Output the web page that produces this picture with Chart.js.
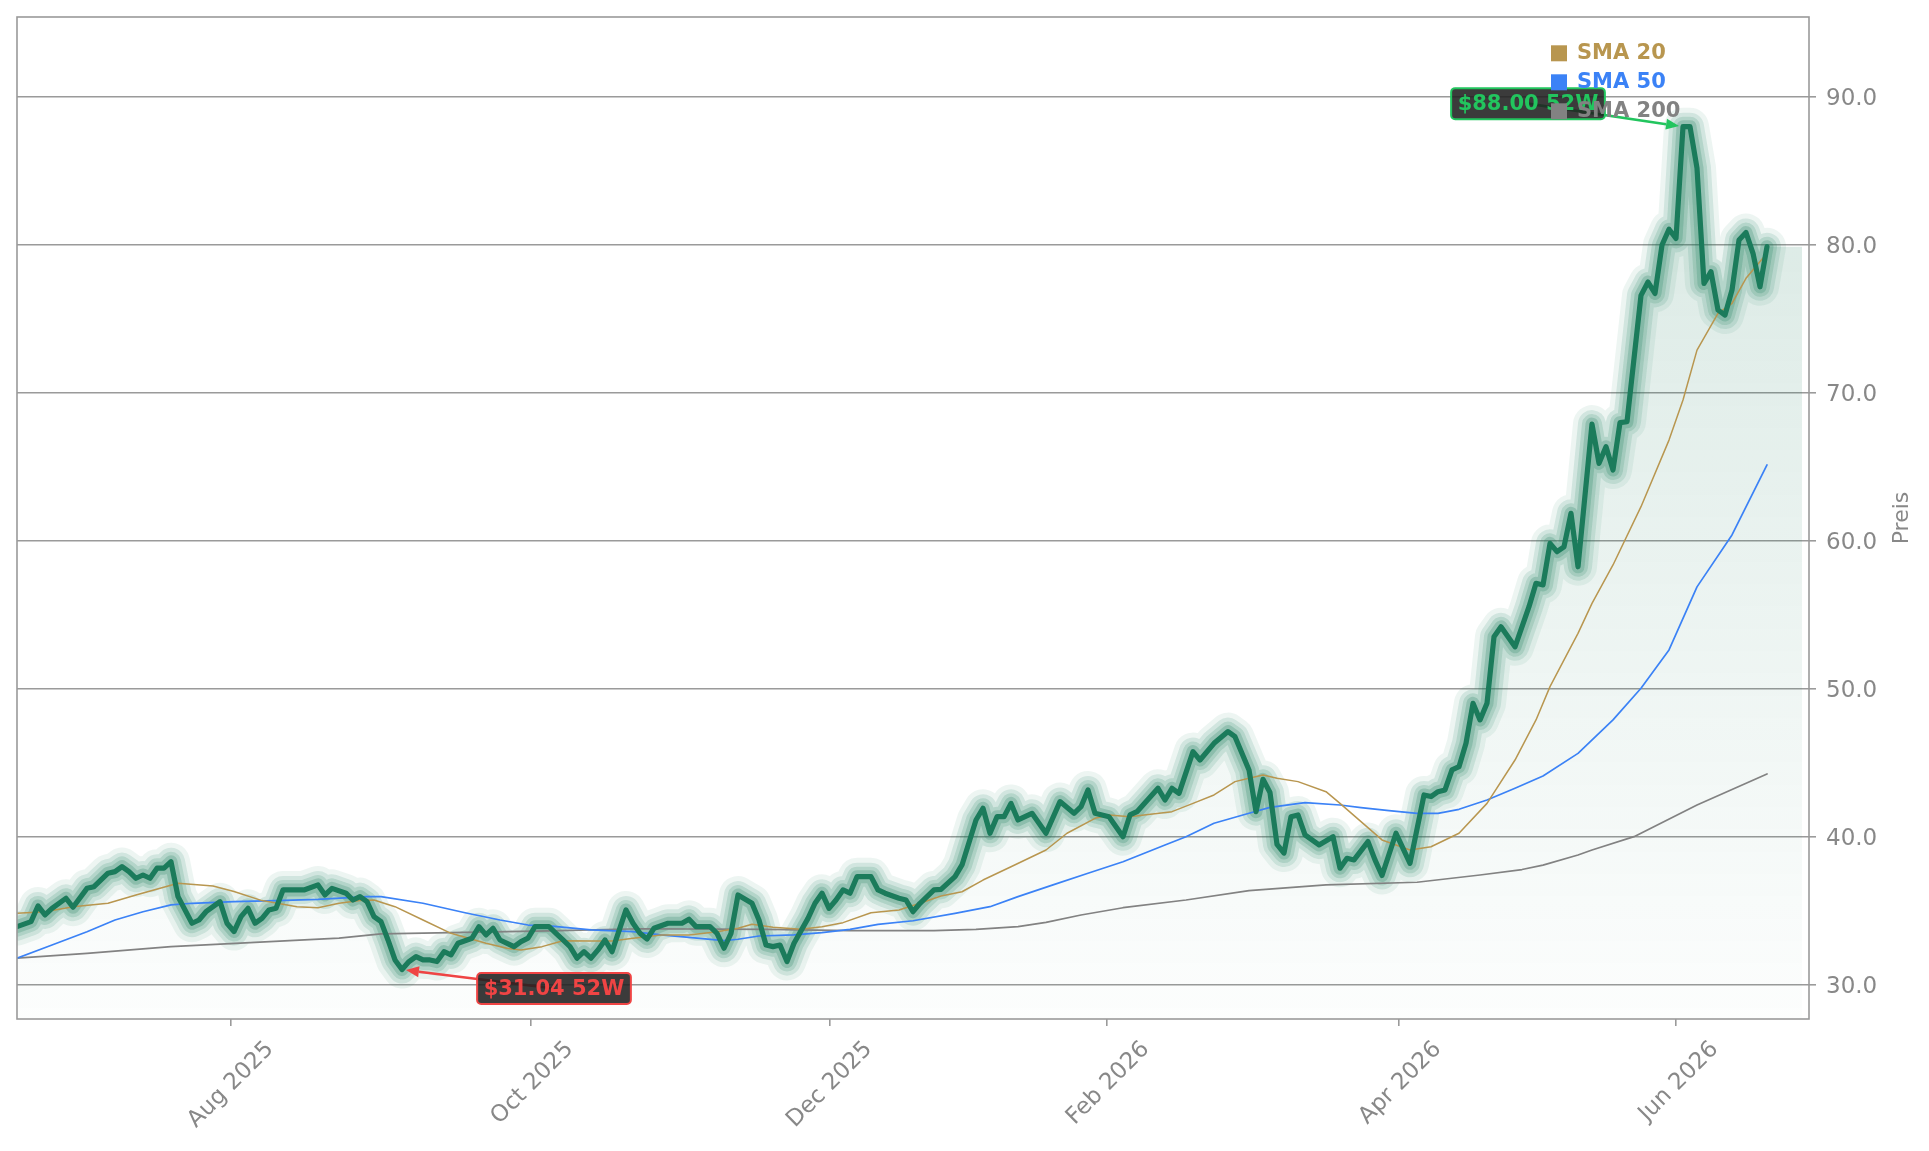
<!DOCTYPE html>
<html>
<head>
<meta charset="utf-8">
<title>Kurs mit SMA 20 / 50 / 200</title>
<script src="https://cdn.jsdelivr.net/npm/chart.js@4.4.1/dist/chart.umd.min.js"></script>
<style>
  html, body { margin: 0; padding: 0; background: #fff; overflow: hidden; }
  #wrap { width: 1929px; height: 1151px; position: relative; }
</style>
</head>
<body>
<div id="wrap"><canvas id="chart"></canvas></div>
<script>
// x = trading session index (0 = first session of the 52 week window)
const priceIdx = [0, 2, 3, 4, 5, 7, 8, 10, 11, 13,
  14, 15, 16, 17, 18, 19, 20, 21, 22, 23,
  25, 26, 27, 29, 30, 31, 32, 33, 34, 35,
  36, 37, 38, 41, 43, 44, 45, 47, 48, 49,
  50, 51, 52, 53, 54, 55, 56, 57, 58, 59,
  60, 61, 62, 63, 65, 66, 67, 68, 69, 71,
  72, 73, 74, 76, 77, 78, 79, 80, 81, 82,
  83, 84, 85, 87, 88, 89, 90, 91, 92, 93,
  95, 96, 97, 99, 100, 101, 102, 103, 105, 106,
  107, 108, 109, 110, 111, 113, 114, 115, 116, 117,
  118, 119, 120, 122, 123, 124, 126, 127, 128, 129,
  131, 132, 134, 135, 137, 138, 139, 140, 141, 142,
  143, 145, 147, 149, 151, 152, 153, 154, 156, 158,
  159, 160, 163, 164, 165, 166, 168, 169, 171, 173,
  174, 176, 177, 178, 179, 180, 181, 182, 183, 184,
  186, 188, 189, 190, 191, 193, 194, 195, 197, 199,
  201, 202, 203, 204, 205, 206, 207, 208, 209, 210,
  211, 212, 214, 216, 217, 218, 219, 220, 221, 222,
  223, 225, 226, 227, 228, 229, 230, 232, 233, 234,
  235, 236, 237, 238, 239, 240, 241, 242, 243, 244,
  245, 246, 247, 248, 249, 250];
const priceVal = [33.94, 34.28, 35.34, 34.73, 35.18, 35.86, 35.25, 36.53, 36.64, 37.55,
  37.66, 38.0, 37.66, 37.21, 37.43, 37.21, 37.89, 37.89, 38.33, 35.97,
  34.17, 34.39, 34.95, 35.63, 34.17, 33.61, 34.62, 35.18, 34.17, 34.5,
  35.07, 35.18, 36.42, 36.42, 36.76, 36.08, 36.53, 36.2, 35.74, 35.97,
  35.63, 34.62, 34.28, 33.04, 31.69, 31.04, 31.58, 31.92, 31.69, 31.69,
  31.58, 32.25, 32.03, 32.82, 33.16, 33.94, 33.38, 33.83, 33.04, 32.59,
  32.93, 33.16, 33.94, 33.94, 33.49, 33.04, 32.59, 31.81, 32.25, 31.81,
  32.37, 33.04, 32.25, 35.07, 34.17, 33.49, 33.1, 33.83, 34.0, 34.17,
  34.17, 34.44, 33.94, 33.94, 33.49, 32.48, 33.49, 36.08, 35.52, 34.39,
  32.7, 32.59, 32.7, 31.58, 32.82, 34.5, 35.52, 36.2, 35.18, 35.74,
  36.42, 36.2, 37.32, 37.32, 36.42, 36.2, 35.86, 35.74, 34.95, 35.52,
  36.42, 36.46, 37.32, 38.11, 41.15, 41.94, 40.25, 41.37, 41.37, 42.27,
  41.15, 41.6, 40.25, 42.39, 41.6, 42.05, 43.18, 41.6, 41.37, 40.02,
  41.49, 41.71, 43.29, 42.5, 43.29, 42.95, 45.77, 45.2, 46.33, 47.12,
  46.78, 44.53, 41.71, 43.9, 43.0, 39.5, 38.91, 41.37, 41.49, 40.14,
  39.46, 40.02, 37.89, 38.56, 38.45, 39.69, 38.45, 37.4, 40.25, 38.22,
  42.84, 42.73, 43.06, 43.18, 44.53, 44.75, 46.33, 49.03, 47.91, 49.03,
  53.53, 54.2, 52.85, 55.56, 57.14, 57.03, 59.84, 59.28, 59.61, 61.87,
  58.26, 67.9, 65.25, 66.37, 64.8, 68.0, 68.06, 76.6, 77.5, 76.73,
  80.0, 81.07, 80.45, 88.0, 88.0, 85.2, 77.4, 78.2, 75.61, 75.27,
  76.96, 80.34, 80.85, 79.44, 77.18, 79.89];

const sma20Idx = [0, 4, 8, 13, 17, 23, 28, 31, 35, 40,
  43, 46, 49, 51, 54, 58, 62, 67, 70, 72,
  75, 78, 82, 85, 88, 92, 96, 100, 103, 105,
  108, 112, 115, 118, 122, 126, 129, 132, 135, 138,
  142, 147, 150, 154, 156, 159, 161, 165, 168, 171,
  174, 176, 178, 180, 183, 187, 189, 192, 195, 199,
  202, 206, 210, 214, 217, 219, 222, 223, 225, 228,
  232, 236, 237, 238, 240, 243, 245, 247, 250];
const sma20Val = [34.84, 34.95, 35.29, 35.52, 36.08, 36.87, 36.69, 36.31, 35.7, 35.29,
  35.22, 35.52, 35.7, 35.74, 35.29, 34.39, 33.49, 32.82, 32.48, 32.36,
  32.59, 32.99, 32.97, 32.97, 33.16, 33.38, 33.38, 33.6, 33.83, 34.1,
  33.9, 33.76, 33.94, 34.21, 34.88, 35.07, 35.52, 36.01, 36.3, 37.09,
  37.99, 39.12, 40.25, 41.26, 41.49, 41.37, 41.49, 41.71, 42.27, 42.84,
  43.74, 43.97, 44.19, 43.97, 43.74, 43.06, 42.27, 41.04, 39.8, 39.12,
  39.34, 40.25, 42.27, 45.2, 47.91, 50.16, 52.86, 53.76, 55.79, 58.38,
  62.32, 66.82, 68.18, 69.53, 72.9, 75.38, 76.06, 77.75, 79.44];

const sma50Idx = [0, 5, 10, 14, 18, 22, 25, 31, 37, 43,
  50, 52, 58, 64, 69, 73, 76, 82, 88, 92,
  96, 101, 103, 106, 111, 115, 119, 123, 128, 134,
  139, 143, 148, 153, 158, 164, 167, 171, 176, 179,
  184, 189, 192, 196, 200, 203, 206, 210, 214, 218,
  223, 228, 232, 236, 240, 245, 250];
const sma50Val = [31.81, 32.7, 33.6, 34.39, 34.95, 35.41, 35.52, 35.63, 35.7, 35.79,
  35.97, 35.97, 35.52, 34.88, 34.39, 34.05, 33.99, 33.72, 33.6, 33.38,
  33.22, 33.0, 33.09, 33.31, 33.38, 33.54, 33.76, 34.1, 34.34, 34.84,
  35.29, 35.97, 36.76, 37.55, 38.33, 39.46, 40.02, 40.93, 41.6, 42.0,
  42.32, 42.16, 41.98, 41.78, 41.6, 41.6, 41.87, 42.5, 43.29, 44.12,
  45.65, 47.91, 50.05, 52.64, 56.9, 60.41, 65.14];

const sma200Idx = [0, 10, 22, 34, 46, 52, 64, 76, 89, 107,
  119, 131, 137, 143, 147, 152, 158, 167, 176, 187,
  200, 209, 215, 218, 223, 225, 231, 240, 250];
const sma200Val = [31.81, 32.14, 32.59, 32.88, 33.16, 33.45, 33.56, 33.65, 33.8, 33.76,
  33.67, 33.67, 33.76, 33.94, 34.23, 34.73, 35.22, 35.74, 36.37, 36.76,
  36.94, 37.43, 37.8, 38.1, 38.78, 39.12, 40.02, 42.16, 44.26];

// the shaded area runs a few sessions past the last close
const fillEndIdx = 255;

// axis
const xTickPos = [30.6, 73.4, 116.1, 155.7, 197.4, 237.0];
const xTickLabels = ['Aug 2025', 'Oct 2025', 'Dec 2025', 'Feb 2026', 'Apr 2026', 'Jun 2026'];
const yTicks = [30, 40, 50, 60, 70, 80, 90];
const xMin = 0, xMax = 256;
const yMin = 27.7, yMax = 95.41;

const legendNames = ['SMA 20', 'SMA 50', 'SMA 200'];
const smaColors = ['#b8964f', '#3b82f6', '#828282'];

Chart.defaults.font.family = '"DejaVu Sans", sans-serif';

const toPoints = (idx, vals) => idx.map((x, i) => ({ x: x, y: vals[i] }));
const pricePoints = toPoints(priceIdx, priceVal);
const fillPoints = pricePoints.concat([{ x: fillEndIdx, y: priceVal[priceVal.length - 1] }]);

const GREEN = '27,122,90';
// glow around the close line: width / alpha
const glowLayers = [[38, 0.08], [28, 0.13], [20, 0.16], [13, 0.22]];

function areaGradient(c) {
    const chart = c.chart;
    const area = chart.chartArea;
    if (!area) return 'rgba(' + GREEN + ',0.08)';
    const top = chart.scales.y.getPixelForValue(Math.max(...priceVal));
    const g = chart.ctx.createLinearGradient(0, top, 0, area.bottom);
    g.addColorStop(0, 'rgba(' + GREEN + ',0.17)');
    g.addColorStop(1, 'rgba(' + GREEN + ',0.01)');
    return g;
}

const datasets = [
    { label: 'Kurs', data: pricePoints, borderColor: '#1b7b5b', borderWidth: 5.2, order: 1 },
    { label: legendNames[0], data: toPoints(sma20Idx, sma20Val), borderColor: smaColors[0], borderWidth: 1.5, order: 2 },
    { label: legendNames[1], data: toPoints(sma50Idx, sma50Val), borderColor: smaColors[1], borderWidth: 1.7, order: 3 },
    { label: legendNames[2], data: toPoints(sma200Idx, sma200Val), borderColor: smaColors[2], borderWidth: 1.7, order: 4 }
];
glowLayers.forEach((g, i) => {
    datasets.push({ label: 'glow' + i, data: pricePoints, borderColor: 'rgba(' + GREEN + ',' + g[1] + ')', borderWidth: g[0], order: 5 + i });
});
datasets.push({ label: 'area', data: fillPoints, borderWidth: 0, borderColor: 'rgba(0,0,0,0)', fill: 'start', backgroundColor: areaGradient, order: 10 });
datasets.forEach(d => {
    d.pointRadius = 0;
    d.tension = 0;
    d.borderJoinStyle = 'round';
    d.borderCapStyle = 'round';
    d.clip = 0;
    if (d.fill === undefined) d.fill = false;
});

// callout box with arrow (52W high / low)
function callout(ctx, px, py, dx, dy, text, color) {
    ctx.font = 'bold 21px "DejaVu Sans"';
    const w = ctx.measureText(text).width + 13;
    const h = 31;
    const cx = px + dx, cy = py + dy;
    const ang = Math.atan2(py - cy, px - cx);
    const cos = Math.cos(ang), sin = Math.sin(ang);
    const tipX = px - cos * 4, tipY = py - sin * 4;
    const headLen = 13, headW = 5.5;
    ctx.strokeStyle = color;
    ctx.fillStyle = color;
    ctx.lineWidth = 2.6;
    ctx.beginPath();
    ctx.moveTo(cx, cy);
    ctx.lineTo(tipX - cos * headLen, tipY - sin * headLen);
    ctx.stroke();
    ctx.beginPath();
    ctx.moveTo(tipX, tipY);
    ctx.lineTo(tipX - cos * headLen - sin * headW, tipY - sin * headLen + cos * headW);
    ctx.lineTo(tipX - cos * headLen + sin * headW, tipY - sin * headLen - cos * headW);
    ctx.closePath();
    ctx.fill();
    ctx.beginPath();
    ctx.roundRect(cx - w / 2, cy - h / 2, w, h, 4);
    ctx.fillStyle = 'rgba(32,32,32,0.88)';
    ctx.fill();
    ctx.lineWidth = 2;
    ctx.strokeStyle = color;
    ctx.stroke();
    ctx.fillStyle = color;
    ctx.textAlign = 'center';
    ctx.textBaseline = 'middle';
    ctx.fillText(text, cx, cy + 1);
}

const overlay = {
    id: 'overlay',
    afterDraw(chart) {
        const ctx = chart.ctx;
        const a = chart.chartArea;
        const xs = chart.scales.x, ys = chart.scales.y;
        ctx.save();

        // frame
        ctx.strokeStyle = '#9a9a9a';
        ctx.lineWidth = 1.6;
        ctx.strokeRect(a.left, a.top, a.right - a.left, a.bottom - a.top);

        // 52W high / low
        const hi = Math.max(...priceVal), lo = Math.min(...priceVal);
        const hiIdx = priceIdx[priceVal.indexOf(hi)], loIdx = priceIdx[priceVal.indexOf(lo)];
        callout(ctx, xs.getPixelForValue(hiIdx), ys.getPixelForValue(hi), -155, -23,
            '$' + hi.toFixed(2) + ' 52W', '#22c55e');
        callout(ctx, xs.getPixelForValue(loIdx), ys.getPixelForValue(lo), 152, 19,
            '$' + lo.toFixed(2) + ' 52W', '#ef4444');

        // legend
        ctx.font = 'bold 21px "DejaVu Sans"';
        ctx.textAlign = 'left';
        ctx.textBaseline = 'alphabetic';
        legendNames.forEach((name, i) => {
            const base = a.top + 42.3 + i * 29;
            ctx.fillStyle = smaColors[i];
            ctx.fillRect(a.right - 258, base - 14, 16, 16);
            ctx.fillText(name, a.right - 232, base);
        });

        // axis title on the right, reading upwards
        ctx.translate(1902, (a.top + a.bottom) / 2);
        ctx.rotate(-Math.PI / 2);
        ctx.font = '22px "DejaVu Sans"';
        ctx.fillStyle = '#888888';
        ctx.textAlign = 'center';
        ctx.textBaseline = 'middle';
        ctx.fillText('Preis', 0, 0);
        ctx.restore();
    }
};

new Chart(document.getElementById('chart'), {
    type: 'line',
    data: { datasets: datasets },
    plugins: [overlay],
    options: {
        responsive: true,
        maintainAspectRatio: false,
        animation: false,
        events: [],
        layout: { padding: { left: 17, top: 17, right: 0, bottom: 0 } },
        plugins: {
            legend: { display: false },
            tooltip: { enabled: false }
        },
        scales: {
            x: {
                type: 'linear',
                position: 'bottom',
                min: xMin,
                max: xMax,
                afterBuildTicks: ax => { ax.ticks = xTickPos.map(v => ({ value: v })); },
                afterFit: ax => {
                    ax.height = 132;
                    ax.paddingLeft = 0;
                    ax.paddingRight = 0;
                },
                border: { display: false },
                grid: { drawOnChartArea: false, drawTicks: true, tickLength: 7, color: '#9a9a9a', lineWidth: 1.6 },
                ticks: {
                    autoSkip: false,
                    minRotation: 45,
                    maxRotation: 45,
                    padding: 10,
                    labelOffset: 39,
                    color: '#888888',
                    font: { size: 23 },
                    callback: (v, i) => xTickLabels[i]
                }
            },
            y: {
                position: 'right',
                min: yMin,
                max: yMax,
                afterBuildTicks: ax => { ax.ticks = yTicks.map(v => ({ value: v })); },
                afterFit: ax => {
                    ax.width = 120;
                    ax.paddingTop = 0;
                    ax.paddingBottom = 0;
                },
                border: { display: false },
                grid: { color: '#9a9a9a', lineWidth: 1.6, tickLength: 7 },
                ticks: {
                    padding: 10,
                    labelOffset: 2,
                    color: '#888888',
                    font: { size: 23 },
                    callback: v => v.toFixed(1)
                }
            }
        }
    }
});
</script>
</body>
</html>
